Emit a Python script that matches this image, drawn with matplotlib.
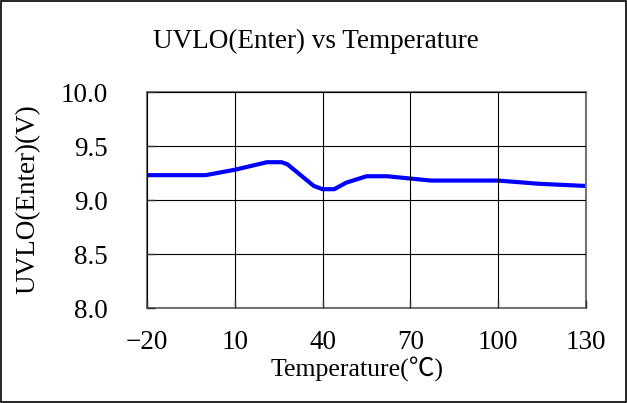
import matplotlib
matplotlib.use('Agg')
import matplotlib.pyplot as plt
from matplotlib.patches import Rectangle

# data
temps = [-20, 0, 5, 10, 21, 26, 28, 37, 40, 44, 48, 55, 62, 77, 100, 114, 130]
uvlo = [9.23, 9.23, 9.255, 9.28, 9.35, 9.35, 9.33, 9.13, 9.10, 9.10, 9.16,
        9.22, 9.22, 9.18, 9.18, 9.15, 9.13]
xticks = [-20, 10, 40, 70, 100, 130]
yticks = [8.0, 8.5, 9.0, 9.5, 10.0]

serif = ['Liberation Serif', 'DejaVu Serif']
plt.rcParams['font.family'] = serif
plt.rcParams['axes.unicode_minus'] = True


def main():
    fig = plt.figure(figsize=(6.27, 4.03), dpi=100)
    ax = fig.add_axes([147 / 627, 95 / 403, 439 / 627, 216 / 403])

    ax.plot(temps, uvlo, color='#0000ff', lw=3.0, solid_joinstyle='round')

    ax.set_xlim(-20, 130)
    ax.set_ylim(8.0, 10.0)
    ax.set_xticks(xticks)
    ax.set_yticks(yticks)
    ax.set_yticklabels(['%.1f' % v for v in yticks])
    ax.grid(True, color='black', lw=0.8)
    ax.set_axisbelow(False)
    ax.tick_params(direction='in', length=6, width=1, color='#333333',
                   labelsize=19.5)
    ax.tick_params(axis='y', pad=28)
    ax.tick_params(axis='x', pad=16)
    for s in ax.spines.values():
        s.set_color('#777777')
        s.set_linewidth(1.5)

    ax.set_xlabel('Temperature(℃)', fontsize=18.5, va='center',
                  family=['Liberation Serif', 'Noto Sans CJK SC'])
    ax.xaxis.set_label_coords(0.478, -0.287)
    ax.set_ylabel('UVLO(Enter)(V)', fontsize=19.5, va='center')
    ax.yaxis.set_label_coords(-0.271, 0.505)

    fig.text(0.504, 0.896, 'UVLO(Enter) vs Temperature', fontsize=19.5,
             ha='center', va='center')

    # outer frame around the whole picture
    fig.patches.append(Rectangle((0.001, 0.002), 0.997, 0.996,
                                 transform=fig.transFigure, fill=False,
                                 edgecolor='black', lw=1.2))

    fig.savefig('out.png', dpi=100)


if __name__ == "__main__":
    main()
